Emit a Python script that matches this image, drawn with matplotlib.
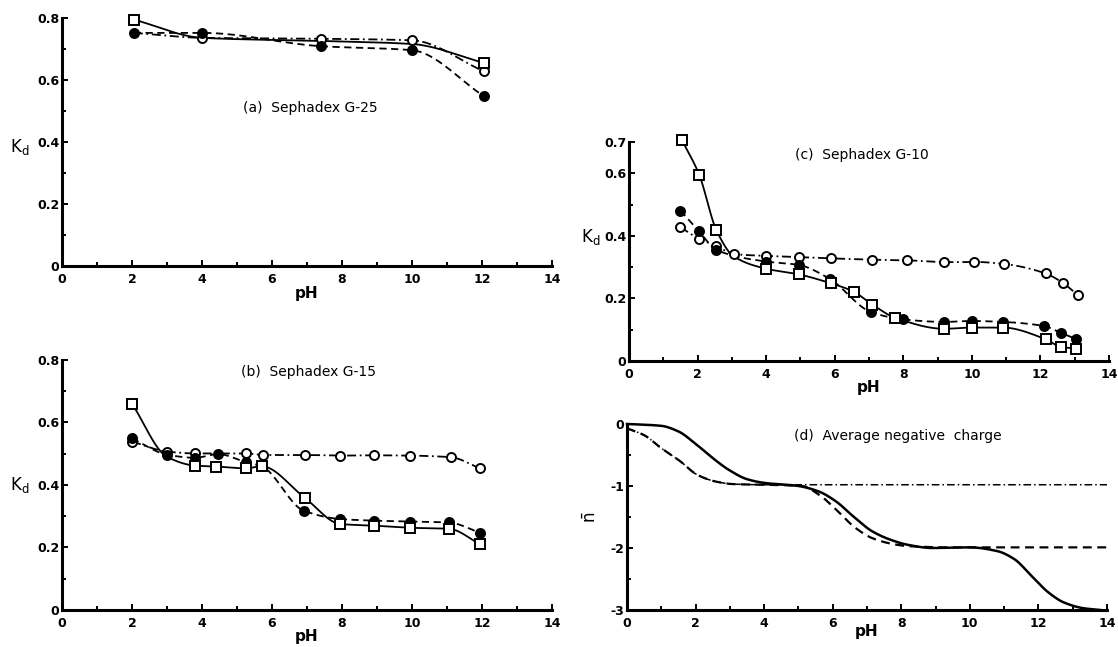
import numpy as np
import matplotlib
matplotlib.use("Agg")
import matplotlib.pyplot as plt
from matplotlib.ticker import MultipleLocator

plt.rcParams["font.family"] = ["DejaVu Sans"]

# (a) Sephadex G-25
a_sq_ph = [2.05, 4.0, 7.4, 10.0, 12.05]
a_sq_kd = [0.795, 0.736, 0.726, 0.716, 0.655]
a_fc_ph = [2.05, 4.0, 7.4, 10.0, 12.05]
a_fc_kd = [0.752, 0.752, 0.709, 0.696, 0.548]
a_oc_ph = [2.05, 4.0, 7.4, 10.0, 12.05]
a_oc_kd = [0.752, 0.736, 0.733, 0.728, 0.628]

# (b) Sephadex G-15
b_sq_ph = [2.0, 3.0, 3.8, 4.4, 5.25, 5.7, 6.95, 7.95, 8.9, 9.95, 11.05, 11.95]
b_sq_kd = [0.66, 0.49, 0.462, 0.459, 0.453, 0.46, 0.357, 0.275, 0.27, 0.263, 0.26, 0.21]
b_fc_ph = [2.0, 3.0, 3.8, 4.45, 5.25, 5.7, 6.9, 7.95, 8.9, 9.95, 11.05, 11.95]
b_fc_kd = [0.549, 0.497, 0.487, 0.499, 0.473, 0.46, 0.318, 0.291, 0.286, 0.283, 0.28, 0.247]
b_oc_ph = [2.0, 3.0, 3.8, 5.25, 5.75, 6.95, 7.95, 8.9, 9.95, 11.1, 11.95]
b_oc_kd = [0.539, 0.507, 0.501, 0.501, 0.496, 0.496, 0.494, 0.495, 0.494, 0.489, 0.453]

# (c) Sephadex G-10
c_sq_ph = [1.55, 2.05, 2.55, 3.05, 4.0, 4.95, 5.9, 6.55, 7.1, 7.75, 9.2, 10.0, 10.9, 12.15, 12.6, 13.05]
c_sq_kd = [0.705, 0.595, 0.418, 0.335, 0.295, 0.277, 0.248, 0.222, 0.18, 0.139, 0.103, 0.107, 0.107, 0.07, 0.045, 0.04]
c_fc_ph = [1.5, 2.05, 2.55, 4.0, 4.95, 5.85, 7.05, 8.0, 9.2, 10.0, 10.9, 12.1, 12.6, 13.05]
c_fc_kd = [0.481, 0.414, 0.355, 0.318, 0.307, 0.263, 0.157, 0.133, 0.125, 0.128, 0.125, 0.112, 0.09, 0.07]
c_oc_ph = [1.5, 2.05, 2.55, 3.05, 4.0, 4.95, 5.9, 7.1, 8.1, 9.2, 10.05, 10.95, 12.15, 12.65, 13.1]
c_oc_kd = [0.428, 0.39, 0.368, 0.342, 0.336, 0.332, 0.328, 0.324, 0.322, 0.316, 0.317, 0.31, 0.28, 0.25, 0.21]

# (d) average negative charge
d1_ph = [0, 1.0, 1.5, 2.0, 2.5, 3.0, 3.5, 4.0, 5.0, 5.6, 6.1, 6.6, 7.15, 7.7, 8.2, 8.9, 10.0, 10.8, 11.3, 11.8, 12.3, 12.75, 13.3, 13.8]
d1_n = [0, -0.03, -0.12, -0.32, -0.55, -0.75, -0.89, -0.95, -1.0, -1.09, -1.25, -1.49, -1.73, -1.87, -1.95, -2.0, -1.99, -2.05, -2.18, -2.45, -2.72, -2.88, -2.97, -3.0]
d2_ph = [0, 0.5, 1.0, 1.55, 2.05, 2.6, 3.1, 4.0, 5.1, 5.6, 6.1, 6.65, 7.15, 7.7, 8.2, 9.4, 14.0]
d2_n = [-0.07, -0.18, -0.39, -0.6, -0.82, -0.93, -0.97, -0.98, -1.0, -1.14, -1.38, -1.67, -1.84, -1.93, -1.97, -1.99, -1.99]
d3_ph = [0, 0.5, 1.0, 1.55, 2.05, 2.6, 3.1, 4.0, 14.0]
d3_n = [-0.07, -0.18, -0.39, -0.6, -0.82, -0.93, -0.97, -0.98, -0.98]


def pchip(x, y, n=400):
    # monotone cubic, only used to draw the smooth connecting line
    x = np.asarray(x, float)
    y = np.asarray(y, float)
    h = np.diff(x)
    d = np.diff(y) / h
    m = np.zeros_like(y)
    for k in range(1, len(x) - 1):
        if d[k - 1] * d[k] > 0:
            w1 = 2 * h[k] + h[k - 1]
            w2 = h[k] + 2 * h[k - 1]
            m[k] = (w1 + w2) / (w1 / d[k - 1] + w2 / d[k])
    m[0] = d[0]
    m[-1] = d[-1]
    xs = np.linspace(x[0], x[-1], n)
    i = np.clip(np.searchsorted(x, xs) - 1, 0, len(h) - 1)
    t = (xs - x[i]) / h[i]
    ys = ((2 * t**3 - 3 * t**2 + 1) * y[i] + (t**3 - 2 * t**2 + t) * h[i] * m[i]
          + (-2 * t**3 + 3 * t**2) * y[i + 1] + (t**3 - t**2) * h[i] * m[i + 1])
    return xs, ys


def series(ax, x, y, ls, marker=None, mfc="white", show=None, lw=1.3, ms=7):
    xs, ys = pchip(x, y)
    ax.plot(xs, ys, color="k", ls=ls, lw=lw, zorder=2, clip_on=False)
    if marker:
        idx = range(len(x)) if show is None else show
        ax.plot([x[i] for i in idx], [y[i] for i in idx], ls="none", marker=marker,
                ms=ms, mfc=mfc, mec="k", mew=1.4, zorder=3, clip_on=False)


def setup(ax, ylim, yticks, ylabels, yminor):
    ax.set_xlim(0, 14)
    ax.set_ylim(*ylim)
    for s in ["top", "right"]:
        ax.spines[s].set_visible(False)
    for s in ["left", "bottom"]:
        ax.spines[s].set_linewidth(2.2)
    ax.set_xticks(range(0, 15, 2))
    ax.set_xticklabels([str(v) for v in range(0, 15, 2)])
    ax.xaxis.set_minor_locator(MultipleLocator(1))
    ax.set_yticks(yticks)
    ax.set_yticklabels(ylabels)
    ax.yaxis.set_minor_locator(MultipleLocator(yminor))
    ax.tick_params(which="both", direction="in", width=1.4, labelsize=9)
    ax.tick_params(which="major", length=4)
    ax.tick_params(which="minor", length=3)
    ax.tick_params(axis="x", pad=5)
    ax.tick_params(axis="y", pad=2)
    for lab in ax.get_xticklabels() + ax.get_yticklabels():
        lab.set_fontweight("bold")


fig = plt.figure(figsize=(11.18, 6.47), dpi=100)
dash = (0, (4, 2.5))
dashdot = (0, (5, 2, 1, 2))

# (a)
ax = fig.add_axes([0.0555, 0.5889, 0.4383, 0.3833])
setup(ax, (0, 0.8), [0, 0.2, 0.4, 0.6, 0.8], ["0", "0.2", "0.4", "0.6", "0.8"], 0.1)
series(ax, a_oc_ph, a_oc_kd, dashdot, "o", "white", show=[1, 2, 3, 4], ms=6.5)
series(ax, a_fc_ph, a_fc_kd, dash, "o", "black", ms=6.5)
series(ax, a_sq_ph, a_sq_kd, "-", "s", "white", show=[0, 4])
ax.text(7.1, 0.51, "(a)  Sephadex G-25", ha="center", va="center", fontsize=10)
ax.text(-0.086, 0.48, r"K$_\mathrm{d}$", transform=ax.transAxes, ha="center", va="center", fontsize=12)
ax.text(0.5, -0.11, "pH", transform=ax.transAxes, ha="center", va="center", fontsize=11, fontweight="bold")

# (b)
ax = fig.add_axes([0.0555, 0.0572, 0.4383, 0.3864])
setup(ax, (0, 0.8), [0, 0.2, 0.4, 0.6, 0.8], ["0", "0.2", "0.4", "0.6", "0.8"], 0.1)
series(ax, b_oc_ph, b_oc_kd, dashdot, "o", "white", ms=6.5)
series(ax, b_fc_ph, b_fc_kd, dash, "o", "black", ms=6.5)
series(ax, b_sq_ph, b_sq_kd, "-", "s", "white", show=[0] + list(range(2, 12)))
ax.text(7.05, 0.763, "(b)  Sephadex G-15", ha="center", va="center", fontsize=10)
ax.text(-0.086, 0.5, r"K$_\mathrm{d}$", transform=ax.transAxes, ha="center", va="center", fontsize=12)
ax.text(0.5, -0.108, "pH", transform=ax.transAxes, ha="center", va="center", fontsize=11, fontweight="bold")

# (c)
ax = fig.add_axes([0.5626, 0.4420, 0.4293, 0.3385])
setup(ax, (0, 0.7), [0, 0.2, 0.4, 0.6, 0.7], ["0", "0.2", "0.4", "0.6", "0.7"], 0.1)
series(ax, c_oc_ph, c_oc_kd, dashdot, "o", "white", ms=6.5)
series(ax, c_fc_ph, c_fc_kd, dash, "o", "black", ms=6.5)
series(ax, c_sq_ph, c_sq_kd, "-", "s", "white", show=[0, 1, 2] + list(range(4, 16)))
ax.text(6.8, 0.66, "(c)  Sephadex G-10", ha="center", va="center", fontsize=10)
ax.text(-0.08, 0.567, r"K$_\mathrm{d}$", transform=ax.transAxes, ha="center", va="center", fontsize=12)
ax.text(0.5, -0.123, "pH", transform=ax.transAxes, ha="center", va="center", fontsize=11, fontweight="bold")

# (d)
ax = fig.add_axes([0.5608, 0.0572, 0.4293, 0.2875])
setup(ax, (-3, 0), [-3, -2, -1, 0], ["-3", "-2", "-1", "0"], 0.5)
series(ax, d3_ph, d3_n, dashdot, lw=1.1)
series(ax, d2_ph, d2_n, (0, (4, 2.5)), lw=1.6)
series(ax, d1_ph, d1_n, "-", lw=1.8)
ax.text(7.9, -0.2, "(d)  Average negative  charge", ha="center", va="center", fontsize=10)
ax.text(-0.075, 0.5, r"$\bar{\mathrm{n}}$", transform=ax.transAxes, ha="center", va="center",
        fontsize=12, rotation=90)
ax.text(0.5, -0.115, "pH", transform=ax.transAxes, ha="center", va="center", fontsize=11, fontweight="bold")

fig.savefig("out.png", dpi=100)
